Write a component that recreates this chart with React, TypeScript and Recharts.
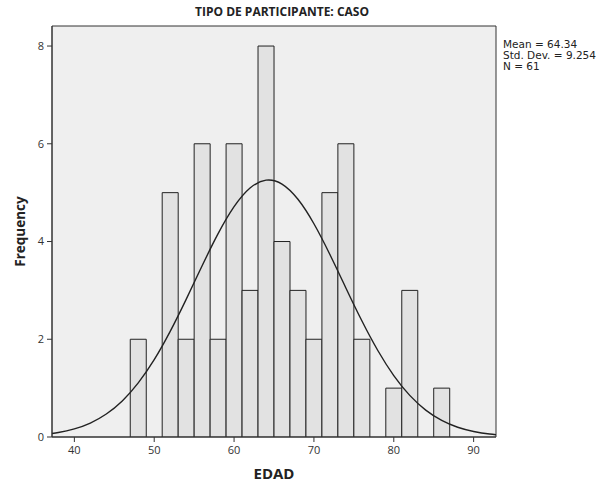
import { ComposedChart, Bar, Line, XAxis, YAxis, ReferenceArea } from "recharts";

// histogram bins (width 2), labelled by midpoint
const binMids = [48, 50, 52, 54, 56, 58, 60, 62, 64, 66, 68, 70, 72, 74, 76, 78, 80, 82, 84, 86];
const binCounts = [2, 0, 5, 2, 6, 2, 6, 3, 8, 4, 3, 2, 5, 6, 2, 0, 1, 3, 0, 1];

// fitted normal curve (clipped at the frame)
const curveX = [36, 38, 40, 42, 44, 46, 48, 50, 52, 54, 56, 58, 60, 62, 64, 66, 68, 70, 72, 74, 76, 78, 80, 82, 84, 86, 88, 90, 92, 94];
const curveY = [0.048, 0.092, 0.165, 0.285, 0.47, 0.738, 1.107, 1.583, 2.162, 2.817, 3.504, 4.16, 4.712, 5.094, 5.256, 5.176, 4.864, 4.363, 3.734, 3.05, 2.378, 1.77, 1.257, 0.852, 0.551, 0.34, 0.2, 0.113, 0.06, 0.031];

const xTicks = [40, 50, 60, 70, 80, 90];
const yTicks = [0, 2, 4, 6, 8];
const xDomain: [number, number] = [37.2, 92.8];
const yDomain: [number, number] = [0, 8.41];

const stats = ["Mean = 64.34", "Std. Dev. = 9.254", "N = 61"];

const bars = binMids.map((x, i) => ({ x, count: binCounts[i] }));
const curve = curveX.map((x, i) => ({ x, y: curveY[i] }));

const tickStyle = { fontSize: 11, fill: "#333", fontFamily: "'Open Sans', sans-serif" };

export default function App() {
  return (
    <div style={{ position: "relative", width: 611, height: 487, background: "#fff", fontFamily: "'Open Sans', sans-serif" }}>
      <style>{"body{margin:0}"}</style>
      <div style={{ position: "absolute", left: 60, width: 444, top: 3, textAlign: "center", fontSize: 12, fontWeight: 700, color: "#222" }}>
        TIPO DE PARTICIPANTE: CASO
      </div>
      <div style={{ position: "absolute", left: 503, top: 39, fontSize: 10.5, lineHeight: "11px", color: "#222", fontFamily: "'DejaVu Sans', sans-serif" }}>
        {stats.map((s) => (
          <div key={s}>{s}</div>
        ))}
      </div>
      <ComposedChart width={611} height={487} data={bars} margin={{ top: 26, right: 115, bottom: 20, left: 12 }} barCategoryGap={0}>
        <XAxis
          dataKey="x"
          type="number"
          domain={xDomain}
          ticks={xTicks}
          allowDataOverflow
          height={30}
          tickSize={5}
          tickMargin={4}
          tick={tickStyle}
          stroke="#333"
          label={{ value: "EDAD", position: "insideBottom", offset: -12, style: { fontSize: 15, fontWeight: 700, fill: "#222" } }}
        />
        <YAxis
          type="number"
          domain={yDomain}
          ticks={yTicks}
          allowDataOverflow
          width={40}
          tickSize={5}
          tickMargin={3}
          tick={tickStyle}
          stroke="#333"
          label={{ value: "Frequency", angle: -90, position: "insideLeft", offset: 8, style: { fontSize: 13.5, fontWeight: 700, fill: "#222", textAnchor: "middle" } }}
        />
        <ReferenceArea x1={xDomain[0]} x2={xDomain[1]} y1={yDomain[0]} y2={yDomain[1]} fill="#efefef" fillOpacity={1} stroke="#333" strokeWidth={1} />
        <Bar dataKey="count" fill="#e2e2e2" stroke="#222" strokeWidth={1} isAnimationActive={false} />
        <Line data={curve} dataKey="y" type="natural" stroke="#222" strokeWidth={1.4} dot={false} isAnimationActive={false} />
      </ComposedChart>
    </div>
  );
}
